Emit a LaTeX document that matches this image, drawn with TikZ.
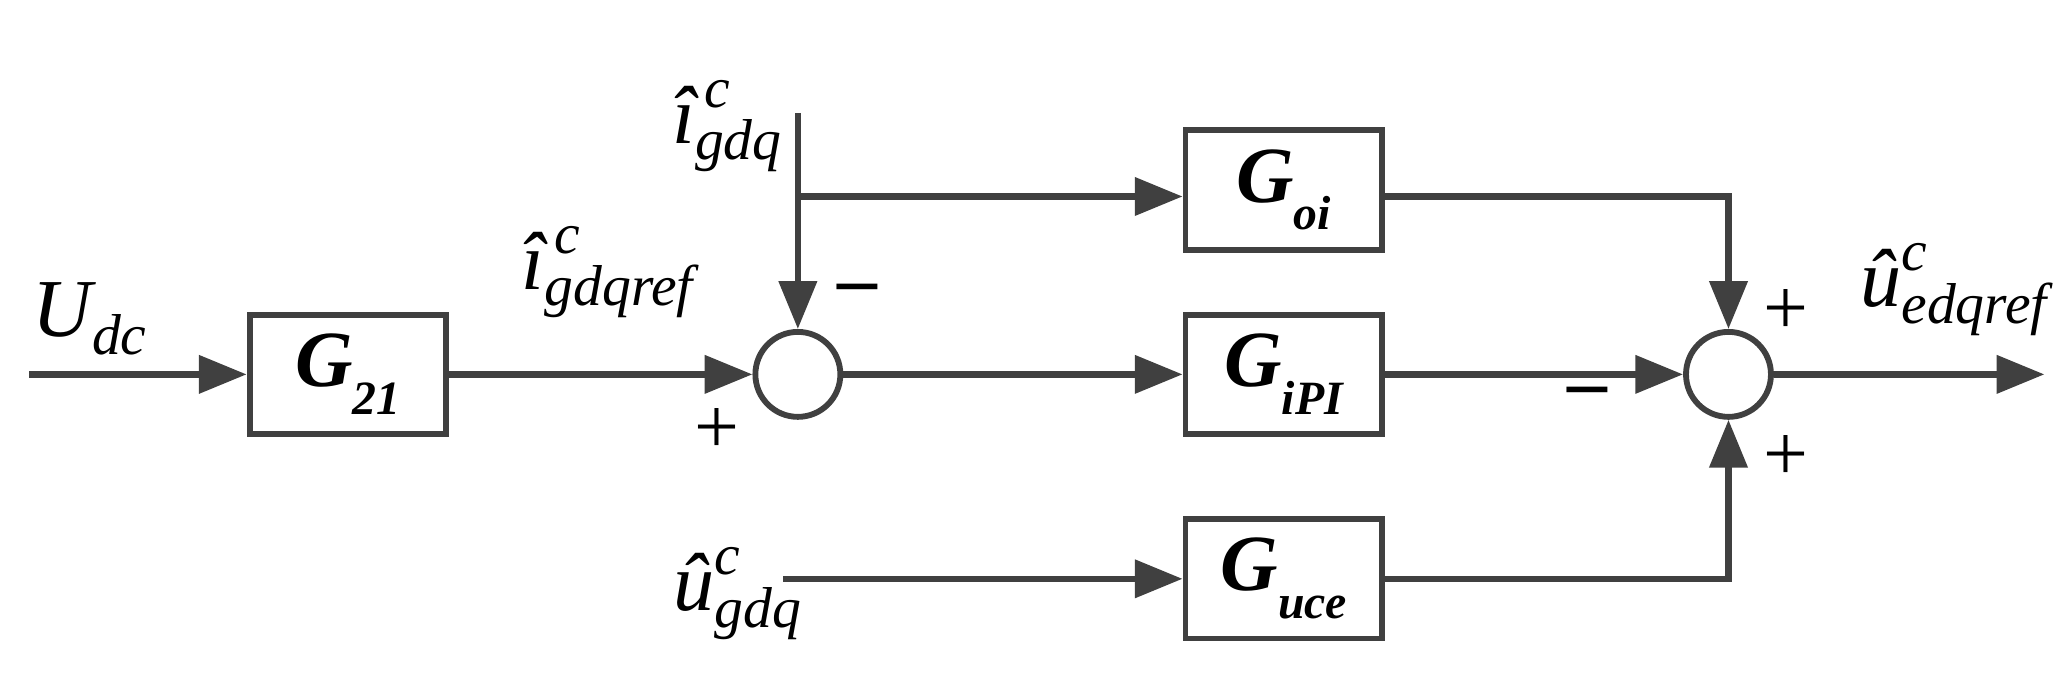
\documentclass[tikz,border=0pt]{standalone}
\usepackage{amsmath}
\usepackage{fontspec}
\setmainfont{Liberation Serif}
\usetikzlibrary{arrows.meta, positioning}
\definecolor{linegray}{HTML}{404040}
\tikzset{
  blk/.style={draw=linegray, line width=2.2pt, minimum width=74pt, minimum height=45pt, inner sep=0pt,
    font=\fontsize{30}{34}\selectfont\bfseries\itshape},
  sumc/.style={draw=linegray, line width=2.2pt, circle, minimum size=32pt, inner sep=0pt},
  sig/.style={line width=2.5pt, draw=linegray, -{Triangle[length=18pt, width=14pt]}},
  lbl/.style={font=\fontsize{31}{34}\selectfont},
  sgn/.style={font=\fontsize{30}{34}\selectfont, text=black}
}
\newcommand{\subl}[2]{#1\raisebox{-0.35em}{\fontsize{18}{20}\selectfont #2}}
\newcommand{\vsig}[3]{$\text{\itshape #1}^{\text{\itshape #2}}_{\text{\itshape #3}}$}
\begin{document}
\begin{tikzpicture}[x=0.5pt, y=-0.5pt]
  \useasboundingbox (0,0) rectangle (1560,515);
  % Blocks
  \node[blk] (g21) at (262,282) {\subl{G}{21}};
  \node[blk] (goi) at (967,143) {\subl{G}{oi}};
  \node[blk] (gipi) at (967,282) {\subl{G}{iPI}};
  \node[blk] (guce) at (967,436) {\subl{G}{uce}};
  % Summing junctions
  \node[sumc] (s1) at (601,282) {};
  \node[sumc] (s2) at (1302,282) {};
  % Free ends
  \coordinate (udc) at (22,282);
  \coordinate (ig) at (601,85);
  \coordinate (br) at (601,148);
  \coordinate (ug) at (590,436);
  \coordinate (out) at (1540,282);
  % Connectors
  \draw[sig] (udc) -- (g21);
  \draw[sig] (g21) -- (s1);
  \draw[sig] (ig) -- (s1);
  \draw[sig] (br) -- (br -| goi.west);
  \draw[sig] (s1) -- (gipi);
  \draw[sig] (gipi) -- (s2);
  \draw[sig] (goi.east |- br) -| (s2);
  \draw[sig] (ug) -- (guce);
  \draw[sig] (guce) -| (s2);
  \draw[sig] (s2) -- (out);
  % Labels
  \node[lbl] (ludc) at (68,240) {\vsig{U}{}{dc}};
  \node[lbl] (lref) at (458,205) {\vsig{\^{\i}}{\,c}{gdqref}};
  \node[lbl] (lig) at (548,95) {\vsig{\^{\i}}{\,c}{gdq}};
  \node[lbl] (lug) at (556,447) {\vsig{\^{u}}{c}{gdq}};
  \node[lbl] (lout) at (1472,218) {\vsig{\^{u}}{c}{edqref}};
  % Signs
  \node[sgn] (m1) at (646,222) {\textbf{\textendash}};
  \node[sgn] (p1) at (540,325) {+};
  \node[sgn] (m2) at (1196,300) {\textbf{\textendash}};
  \node[sgn] (p2) at (1345,235) {+};
  \node[sgn] (p3) at (1345,345) {+};
\end{tikzpicture}
\end{document}
